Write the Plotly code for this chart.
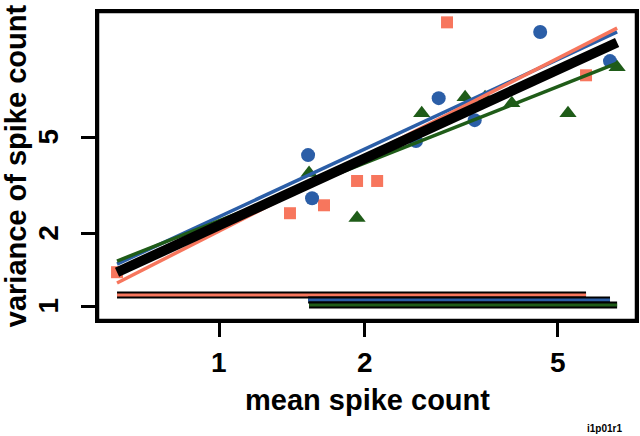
import numpy as np
import plotly.graph_objects as go

# ---- data ----
sq_x = [0.616, 1.401, 1.647, 1.927, 2.12, 2.955, 5.72]
sq_y = [1.38, 2.42, 2.61, 3.29, 3.29, 14.9, 9.0]

ci_x = [1.527, 1.556, 2.55, 2.84, 3.37, 4.60, 6.41]
ci_y = [4.21, 2.79, 4.81, 7.24, 5.87, 13.6, 10.3]

tr_x = [1.534, 1.927, 2.62, 3.22, 3.54, 4.02, 5.25, 6.63]
tr_y = [3.55, 2.31, 6.27, 7.31, 7.3, 6.90, 6.27, 9.72]

fit_x = [0.616, 6.63]
fit_salmon = [1.245, 14.1]
fit_blue = [1.49, 13.6]
fit_green = [1.535, 10.1]
fit_all = [1.38, 12.3]

bar_levels = [1.11, 1.06, 1.01]   # salmon, blue, green range bars

x_ticks = [1, 2, 5]
y_ticks = [1, 2, 5]

SALMON = "#F7765D"
BLUE = "#2B5EA7"
GREEN = "#1F5C18"

fig = go.Figure()

def add_line(x, y, color, width):
    fig.add_trace(go.Scatter(x=x, y=y, mode="lines",
                             line=dict(color=color, width=width),
                             hoverinfo="skip", showlegend=False))

# points
fig.add_trace(go.Scatter(x=sq_x, y=sq_y, mode="markers",
                         marker=dict(symbol="square", size=12, color=SALMON),
                         showlegend=False))
fig.add_trace(go.Scatter(x=ci_x, y=ci_y, mode="markers",
                         marker=dict(symbol="circle", size=14, color=BLUE),
                         showlegend=False))
fig.add_trace(go.Scatter(x=tr_x, y=tr_y, mode="markers",
                         marker=dict(symbol="triangle-up", size=15, color=GREEN),
                         showlegend=False))

# fitted lines
add_line(fit_x, fit_blue, BLUE, 3.5)
add_line(fit_x, fit_salmon, SALMON, 3.5)
add_line(fit_x, fit_green, GREEN, 3.5)
add_line(fit_x, fit_all, "black", 10)

# range bars
for xs, lvl, col in [(sq_x, bar_levels[0], SALMON),
                     (ci_x, bar_levels[1], BLUE),
                     (tr_x, bar_levels[2], GREEN)]:
    bx = [min(xs), max(xs)]
    add_line(bx, [lvl, lvl], "black", 7)
    add_line(bx, [lvl, lvl], col, 3)

FONT = "Liberation Sans"
tickfont = dict(family=FONT, size=28, weight="bold", color="black")

annotations = []
for v in x_ticks:
    annotations.append(dict(text=str(v), xref="x", yref="paper",
                            x=float(np.log10(v)), y=-0.1396,
                            xanchor="center", yanchor="middle", showarrow=False,
                            font=tickfont))
for v in y_ticks:
    annotations.append(dict(text=str(v), xref="paper", yref="y",
                            x=-0.092, y=float(np.log10(v)), textangle=-90,
                            xanchor="center", yanchor="middle", showarrow=False,
                            font=tickfont))
annotations += [
    dict(text="mean spike count", xref="paper", yref="paper",
         x=0.5, y=-0.26, xanchor="center", yanchor="middle", showarrow=False,
         font=dict(family=FONT, size=29, weight="bold", color="black")),
    dict(text="variance of spike count", xref="paper", yref="paper",
         x=-0.152, y=0.5, xanchor="center", yanchor="middle", textangle=-90,
         showarrow=False,
         font=dict(family=FONT, size=29, weight="bold", color="black")),
    dict(text="i1p01r1", xref="paper", yref="paper",
         x=0.942, y=-0.351, xanchor="center", yanchor="middle", showarrow=False,
         font=dict(family=FONT, size=10, weight="bold", color="black")),
]

axis_common = dict(type="log", showgrid=False, zeroline=False, showline=True,
                   mirror=True, linecolor="black", linewidth=2.5,
                   ticks="outside", ticklen=14, tickwidth=2.5, tickcolor="black",
                   showticklabels=False, automargin=False)

fig.update_layout(
    width=640, height=436,
    margin=dict(l=98, r=4, t=12, b=116, autoexpand=False),
    paper_bgcolor="white", plot_bgcolor="white",
    font=dict(family=FONT, color="black"),
    xaxis=dict(range=[-0.2497, 0.8605], tickvals=x_ticks, **axis_common),
    yaxis=dict(range=[-0.0578, 1.216], tickvals=y_ticks, **axis_common),
    shapes=[dict(type="rect", xref="paper", yref="paper", x0=0, x1=1, y0=0, y1=1,
                 line=dict(color="black", width=2.5), layer="above")],
    annotations=annotations,
)

fig.write_html("out.html", config={"displayModeBar": False},
               post_script="document.body.style.margin='0';document.body.style.padding='0';")
